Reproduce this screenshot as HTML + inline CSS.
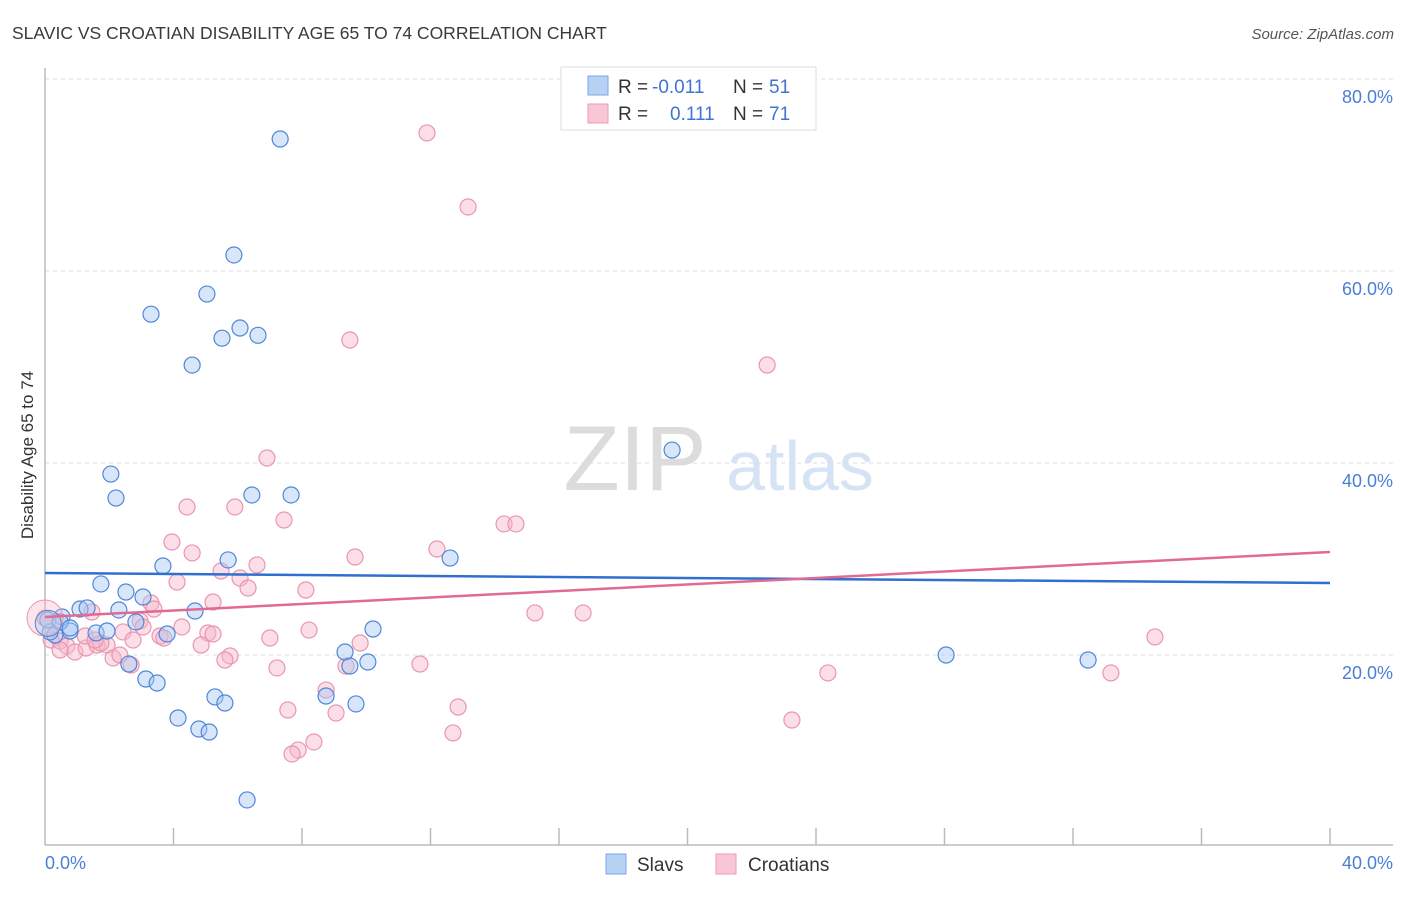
<!DOCTYPE html>
<html><head><meta charset="utf-8"><style>
body{margin:0;background:#fff;font-family:"Liberation Sans",sans-serif}
svg text{font-family:"Liberation Sans",sans-serif}
</style></head><body>
<svg id="chart" width="1406" height="892" viewBox="0 0 1406 892" xmlns="http://www.w3.org/2000/svg">
<text x="12" y="39" font-size="17.5" fill="#3a3a3a">SLAVIC VS CROATIAN DISABILITY AGE 65 TO 74 CORRELATION CHART</text>
<text x="1394" y="39" font-size="15" fill="#555" text-anchor="end" font-style="italic">Source: ZipAtlas.com</text>
<g>
<text x="635" y="490" font-size="92" fill="#dcdcdc" text-anchor="middle" font-family="Liberation Serif">ZIP</text>
<text x="800" y="490" font-size="70" fill="#d6e3f5" text-anchor="middle">atlas</text>
</g>
<g id="grid"></g>
<g id="axes"></g>
<g id="pts"></g>
<g id="lines"></g>
<text transform="translate(33,455) rotate(-90)" font-size="17" fill="#333" text-anchor="middle">Disability Age 65 to 74</text>
<text x="45" y="869" font-size="18" fill="#4a7fd4">0.0%</text>
<text x="1393" y="869" font-size="18" fill="#4a7fd4" text-anchor="end">40.0%</text>
<g>
<rect x="561" y="67" width="255" height="63" fill="#fff" stroke="#ddd"/>
<rect x="588" y="76" width="20" height="19" fill="#b7d1f5" stroke="#7aa6e6"/>
<rect x="588" y="104" width="20" height="19" fill="#f9c6d5" stroke="#ee9ab3"/>
<text x="618" y="93" font-size="19" fill="#333">R =</text>
<text x="652" y="93" font-size="19" fill="#3f74d2">-0.011</text>
<text x="733" y="93" font-size="19" fill="#333">N =</text>
<text x="769" y="93" font-size="19" fill="#3f74d2">51</text>
<text x="618" y="120" font-size="19" fill="#333">R =</text>
<text x="670" y="120" font-size="19" fill="#3f74d2">0.111</text>
<text x="733" y="120" font-size="19" fill="#333">N =</text>
<text x="769" y="120" font-size="19" fill="#3f74d2">71</text>
</g>
<g>
<rect x="606" y="854" width="20" height="20" fill="#b7d1f5" stroke="#7aa6e6"/>
<text x="637" y="871" font-size="19" fill="#333">Slavs</text>
<rect x="716" y="854" width="20" height="20" fill="#f9c6d5" stroke="#ee9ab3"/>
<text x="748" y="871" font-size="19" fill="#333">Croatians</text>
</g>
</svg>
<script>
const yTicks=[20,40,60,80];
const yTickLabels=["20.0%","40.0%","60.0%","80.0%"];
const xTickCount=10;
const slavX=[7.32,5.88,5.04,3.30,6.07,5.51,6.63,4.58,19.52,2.05,2.21,6.44,7.66,12.61,5.70,3.67,1.74,2.52,3.05,4.67,1.09,1.31,2.30,0.53,0.31,0.16,0.78,1.59,1.93,3.80,2.83,10.21,9.34,9.49,10.05,2.61,3.14,3.49,8.75,5.29,5.60,9.68,4.14,4.79,5.11,6.29,28.05,32.47,0.09,0.47,0.78];
const slavY=[73.75,61.67,57.6,55.5,54.06,53.0,53.3,50.2,41.35,38.85,36.35,36.67,36.67,30.1,29.9,29.27,27.4,26.56,26.04,24.58,24.79,24.9,24.69,23.96,22.08,22.4,22.5,22.3,22.5,22.19,23.44,22.71,20.31,18.85,19.27,19.06,17.5,17.08,15.73,15.63,15.0,14.9,13.44,12.29,11.98,4.9,20.0,19.48,23.65,23.44,22.81];
const croX=[11.89,13.17,9.49,22.48,6.91,4.42,5.91,7.44,14.29,14.66,12.2,3.95,4.58,9.65,6.6,5.48,4.11,6.07,6.32,8.12,5.23,3.30,3.39,1.46,15.25,16.75,2.96,2.43,4.26,8.22,5.07,3.58,3.70,7.0,0.19,0.47,0.68,0.93,1.28,1.62,1.93,2.74,1.74,2.12,2.33,2.68,4.86,5.76,5.60,9.81,7.22,11.67,34.55,24.37,33.18,9.37,8.75,7.56,9.06,12.86,12.7,8.37,7.88,7.69,23.25,0.0,1.25,0.47,3.05,1.56,5.23];
const croY=[74.38,66.67,52.81,50.21,40.52,35.42,35.42,34.06,33.65,33.65,31.04,31.77,30.63,30.21,29.38,28.75,27.6,28.02,26.98,26.77,25.52,25.42,24.79,24.48,24.38,24.38,23.54,22.4,22.92,22.6,22.29,21.98,21.77,21.77,21.56,21.46,20.94,20.31,20.73,21.04,21.04,21.56,21.25,19.69,20.0,18.96,21.04,19.9,19.48,21.25,18.65,19.06,21.88,18.13,18.13,18.85,16.35,14.27,13.96,14.58,11.88,10.94,10.1,9.69,13.23,23.85,21.98,20.52,22.92,21.56,22.19];
const slavTrend=[28.54,27.5];
const croTrend=[23.96,30.73];
const X0=45,X1=1330,Y0=847,PPU=9.6;
const sx=v=>X0+v/40*(X1-X0);
const sy=v=>Y0-v*PPU;
const NS="http://www.w3.org/2000/svg";
function mk(t,a,p){const e=document.createElementNS(NS,t);for(const k in a)e.setAttribute(k,a[k]);p.appendChild(e);return e;}
const grid=document.getElementById('grid'),axes=document.getElementById('axes'),pts=document.getElementById('pts'),lines=document.getElementById('lines');
yTicks.forEach((t,i)=>{
 const l=mk('line',{x1:45,x2:1393,y1:sy(t),y2:sy(t),stroke:'#ddd','stroke-dasharray':'4,4'},grid);
 
 
 const tx=mk('text',{x:1393,y:sy(t)+24,'font-size':18,fill:'#4a7fd4','text-anchor':'end'},grid);
 tx.textContent=yTickLabels[i];
 
 
});
const ax=mk('line',{x1:45,x2:45,y1:68,y2:845,stroke:'#bbb','stroke-width':1.5},axes);


const bx=mk('line',{x1:45,x2:1393,y1:845,y2:845,stroke:'#bbb','stroke-width':1.5},axes);


for(let i=1;i<=xTickCount;i++){
 const x=sx(i*40/xTickCount);
 const t=mk('line',{x1:x,x2:x,y1:828,y2:845,stroke:'#bbb','stroke-width':1.5},axes);
 
 
}
function dots(xs,ys,fill,stroke,name){
 xs.forEach((v,i)=>{
  const c=mk('circle',{cx:sx(v),cy:sy(ys[i]),r:8,fill:fill,'fill-opacity':0.45,stroke:stroke,'stroke-width':1.2},pts);
  
  
 });
}
dots(croX,croY,'#f7b6c9','#e996b0','croatians-point');
dots(slavX,slavY,'#a9c8f2','#4f86d8','slavs-point');
const big1=mk('circle',{cx:sx(0),cy:sy(23.85),r:18,fill:'#f7b6c9','fill-opacity':0.35,stroke:'#e996b0'},pts);


const big2=mk('circle',{cx:sx(0.1),cy:sy(23.3),r:13,fill:'#a9c8f2','fill-opacity':0.4,stroke:'#4f86d8'},pts);


const t1=mk('line',{x1:sx(0),x2:sx(40),y1:sy(slavTrend[0]),y2:sy(slavTrend[1]),stroke:'#2f6fd0','stroke-width':2.5},lines);


const t2=mk('line',{x1:sx(0),x2:sx(40),y1:sy(croTrend[0]),y2:sy(croTrend[1]),stroke:'#e06a93','stroke-width':2.5},lines);


</script>
</body></html>
